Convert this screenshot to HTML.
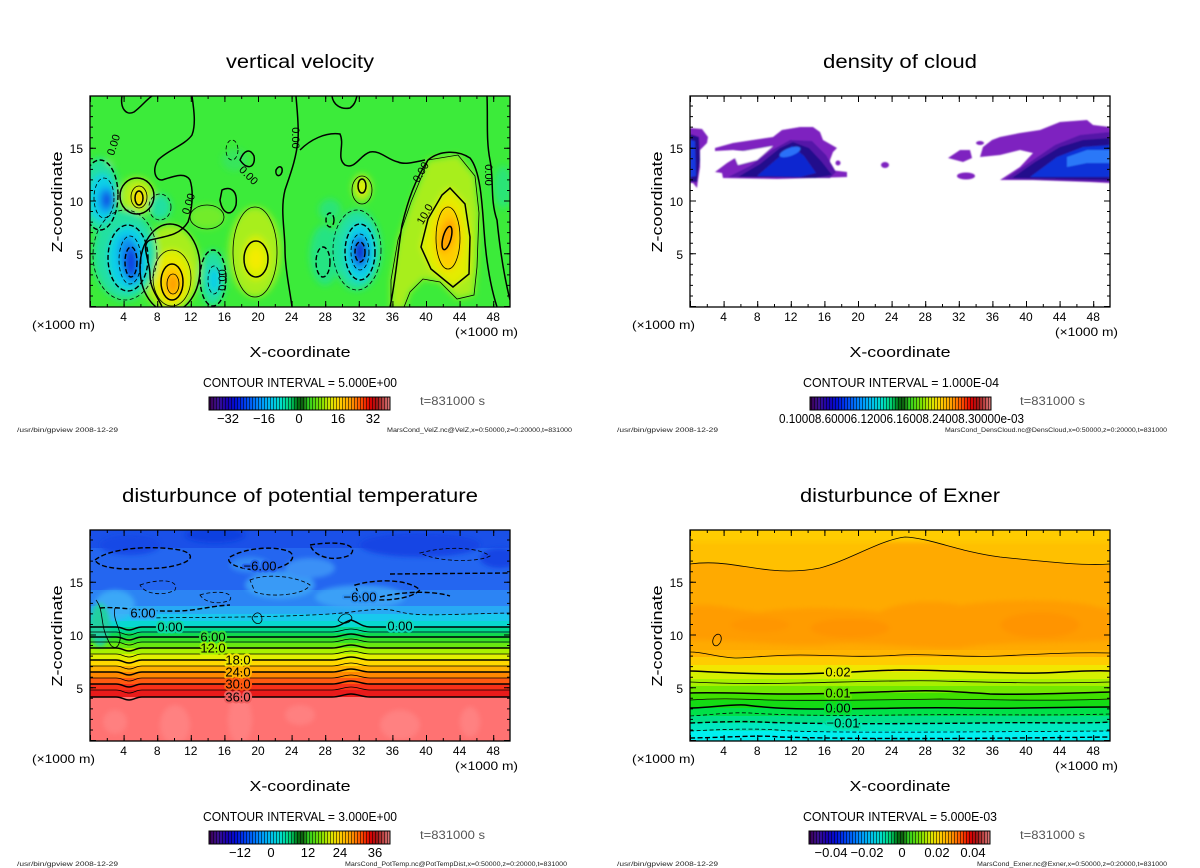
<!DOCTYPE html>
<html><head><meta charset="utf-8"><style>
html,body{margin:0;padding:0;background:#fff}
svg{display:block}
text{font-family:"Liberation Sans",sans-serif;fill:#000}
.k1{fill:none;stroke:#000;stroke-width:.8}
.k2{fill:none;stroke:#000;stroke-width:1.5}
.d1{fill:none;stroke:#000;stroke-width:.8;stroke-dasharray:4 2.5}
.d2{fill:none;stroke:#000;stroke-width:1.4;stroke-dasharray:5 2.5}
.tk{font-size:12px;text-anchor:middle}
.yk{font-size:12px;text-anchor:end}
.ft{font-size:6.5px;fill:#222}
.cl{font-size:13px;text-anchor:middle;paint-order:stroke;stroke-width:4px;stroke-linejoin:round}
.cb{font-size:13px;text-anchor:middle}
</style></head><body>
<svg width="1200" height="868" viewBox="0 0 1200 868" xmlns="http://www.w3.org/2000/svg">
<defs>
<filter id="bl" x="-20%" y="-20%" width="140%" height="140%"><feGaussianBlur stdDeviation="3.5"/></filter>
<filter id="bl3" x="-20%" y="-20%" width="140%" height="140%"><feGaussianBlur stdDeviation="2.5"/></filter>
<filter id="bl2" x="-20%" y="-20%" width="140%" height="140%"><feGaussianBlur stdDeviation="0.7"/></filter>
<clipPath id="cp1"><rect x="90" y="96" width="420" height="211"/></clipPath>
<clipPath id="cp2"><rect x="690" y="96" width="420" height="211"/></clipPath>
<clipPath id="cp3"><rect x="90" y="530" width="420" height="211"/></clipPath>
<clipPath id="cp4"><rect x="690" y="530" width="420" height="211"/></clipPath>
<linearGradient id="cbg" x1="0" y1="0" x2="1" y2="0">
<stop offset="0" stop-color="#3c0050"/><stop offset=".05" stop-color="#3a1090"/><stop offset=".1" stop-color="#1800b0"/>
<stop offset=".15" stop-color="#0010d8"/><stop offset=".2" stop-color="#0040f0"/><stop offset=".28" stop-color="#0090ff"/>
<stop offset=".34" stop-color="#00c0f0"/><stop offset=".4" stop-color="#00e0c8"/><stop offset=".45" stop-color="#00d070"/>
<stop offset=".49" stop-color="#007010"/><stop offset=".52" stop-color="#106010"/><stop offset=".55" stop-color="#30d020"/>
<stop offset=".62" stop-color="#80e000"/><stop offset=".67" stop-color="#d8e800"/><stop offset=".72" stop-color="#ffd000"/>
<stop offset=".78" stop-color="#ffa000"/><stop offset=".84" stop-color="#ff5000"/><stop offset=".89" stop-color="#e00000"/>
<stop offset=".93" stop-color="#a01818"/><stop offset=".97" stop-color="#c05050"/><stop offset="1" stop-color="#e08080"/>
</linearGradient>
<pattern id="stp" x="0" y="0" width="3" height="20" patternUnits="userSpaceOnUse"><rect width="1" height="20" fill="#000" opacity=".55"/></pattern>
<g id="cbar">
<rect x="209" y="397" width="181" height="13" fill="url(#cbg)"/>
<rect x="209" y="397" width="181" height="13" fill="url(#stp)"/>
<rect x="209" y="397" width="181" height="13" fill="none" stroke="#000" stroke-width="1"/>
</g>
<g id="ax">
<line x1="90" y1="305.5" x2="510" y2="305.5" stroke="#000" stroke-width="3" stroke-dasharray="1 15.8"/>
<line x1="90" y1="304" x2="510" y2="304" stroke="#000" stroke-width="6" stroke-dasharray="1 32.6"/>
<line x1="90" y1="97.5" x2="510" y2="97.5" stroke="#000" stroke-width="3" stroke-dasharray="1 15.8"/>
<line x1="90" y1="99" x2="510" y2="99" stroke="#000" stroke-width="6" stroke-dasharray="1 32.6"/>
<line x1="91.5" y1="307" x2="91.5" y2="96" stroke="#000" stroke-width="3" stroke-dasharray="1 9.55"/>
<line x1="93" y1="307" x2="93" y2="96" stroke="#000" stroke-width="6" stroke-dasharray="1 51.75"/>
<line x1="508.5" y1="307" x2="508.5" y2="96" stroke="#000" stroke-width="3" stroke-dasharray="1 9.55"/>
<line x1="507" y1="307" x2="507" y2="96" stroke="#000" stroke-width="6" stroke-dasharray="1 51.75"/>
<rect x="90" y="96" width="420" height="211" fill="none" stroke="#000" stroke-width="1.3"/>
</g>
</defs>

<!-- ================= PANEL 1 ================= -->
<g clip-path="url(#cp1)">
<rect x="90" y="96" width="420" height="211" fill="#3ceb3a"/>
<g filter="url(#bl)">
<ellipse cx="207" cy="217" rx="18" ry="12" fill="#80ec28" opacity=".8"/>
<polygon points="428,160 458,155 475,176 479,213 477,267 474,295 457,299 440,282 423,279 410,292 404,309 391,309 391,280 398,240 411,202 421,178" fill="#a8ee1c"/>
<polygon points="450,188 465,204 470,237 469,274 453,287 431,269 421,247 428,219 442,195" fill="#e4ec00"/>
<ellipse cx="448" cy="238" rx="13" ry="32" fill="#ffcc00"/>
<ellipse cx="447" cy="236" rx="7" ry="17" fill="#ffa000" transform="rotate(15 447 236)"/>
<ellipse cx="170" cy="268" rx="30" ry="43" fill="#a8ee1c"/>
<ellipse cx="172" cy="278" rx="19" ry="28" fill="#e4ec00"/>
<ellipse cx="172" cy="282" rx="11" ry="18" fill="#ffcc00"/>
<ellipse cx="173" cy="284" rx="6" ry="10" fill="#ffa000"/>
<ellipse cx="255" cy="252" rx="26" ry="45" fill="#a8ee1c"/>
<ellipse cx="256" cy="258" rx="13" ry="22" fill="#dcee00"/>
<ellipse cx="256" cy="259" rx="7" ry="11" fill="#f4ec00"/>
<ellipse cx="137" cy="196" rx="18" ry="19" fill="#a8ee1c"/>
<ellipse cx="139" cy="197" rx="8" ry="11" fill="#e4ec00"/>
<ellipse cx="139" cy="198" rx="4" ry="7" fill="#ffcc00"/>
<ellipse cx="105" cy="172" rx="6" ry="12" fill="#e8e000" transform="rotate(20 105 172)"/>
<ellipse cx="362" cy="188" rx="10" ry="14" fill="#a8ee1c"/>
<ellipse cx="362" cy="187" rx="5" ry="8" fill="#e4ec00"/>
<ellipse cx="125" cy="255" rx="32" ry="45" fill="#20e0a0"/>
<ellipse cx="128" cy="258" rx="20" ry="32" fill="#10d0e8"/>
<ellipse cx="130" cy="260" rx="11" ry="24" fill="#1090f0" transform="rotate(-10 130 260)"/>
<ellipse cx="131" cy="262" rx="6" ry="15" fill="#1040e0"/>
<ellipse cx="100" cy="195" rx="19" ry="37" fill="#20e0a0"/>
<ellipse cx="102" cy="198" rx="13" ry="24" fill="#10d0e8"/>
<ellipse cx="106" cy="200" rx="8" ry="13" fill="#1090f0"/>
<ellipse cx="107" cy="200" rx="4" ry="7" fill="#1040e0"/>
<ellipse cx="357" cy="250" rx="24" ry="40" fill="#20e0a0"/>
<ellipse cx="360" cy="252" rx="15" ry="29" fill="#10d0e8"/>
<ellipse cx="360" cy="252" rx="9" ry="18" fill="#1090f0"/>
<ellipse cx="360" cy="252" rx="6" ry="11" fill="#1030d0"/>
<ellipse cx="213" cy="278" rx="13" ry="28" fill="#20e0a0"/>
<ellipse cx="214" cy="280" rx="6" ry="13" fill="#10d0e8"/>
<ellipse cx="160" cy="207" rx="11" ry="13" fill="#20e0a0"/>
<ellipse cx="325" cy="255" rx="15" ry="30" fill="#20e0a0" opacity=".7"/>
<ellipse cx="330" cy="210" rx="11" ry="11" fill="#20e0a0" opacity=".6"/>
<ellipse cx="503" cy="187" rx="9" ry="21" fill="#20e0a0" opacity=".6"/>
<ellipse cx="235" cy="160" rx="13" ry="11" fill="#30e080" opacity=".5"/>
</g>
<!-- positive contours -->
<path class="k2" d="M390,307 C395,285 398,250 402,225 C408,200 415,180 428,160 C440,150 458,150 470,158 C480,170 482,200 484,230 C486,260 490,285 497,307"/>
<polygon class="k1" points="428,160 458,155 475,176 479,213 477,267 474,295 457,299 440,282 423,279 410,292 404,307 391,307 391,280 398,240 411,202 421,178"/>
<polygon class="k2" points="450,188 465,204 470,237 469,274 453,287 431,269 421,247 428,219 442,195"/>
<ellipse class="k1" cx="448" cy="238" rx="12" ry="31"/>
<ellipse class="k2" cx="447" cy="238" rx="4" ry="12" transform="rotate(15 447 238)"/>
<ellipse class="k2" cx="170" cy="268" rx="30" ry="44"/>
<ellipse class="k1" cx="172" cy="278" rx="19" ry="28"/>
<ellipse class="k2" cx="172" cy="282" rx="11" ry="18"/>
<ellipse class="k1" cx="173" cy="284" rx="6" ry="10"/>
<ellipse class="k1" cx="255" cy="252" rx="22" ry="45"/>
<ellipse class="k2" cx="256" cy="259" rx="12" ry="18"/>
<ellipse class="k2" cx="137" cy="196" rx="17" ry="18"/>
<ellipse class="k1" cx="139" cy="197" rx="8" ry="11"/>
<ellipse class="k2" cx="139" cy="198" rx="4" ry="7"/>
<ellipse class="k1" cx="362" cy="190" rx="10" ry="14"/>
<ellipse class="k2" cx="362" cy="186" rx="4" ry="7"/>
<ellipse class="k1" cx="207" cy="217" rx="17" ry="12"/>
<!-- negative contours -->
<ellipse class="d1" cx="125" cy="255" rx="32" ry="45"/>
<ellipse class="d2" cx="128" cy="258" rx="20" ry="33"/>
<ellipse class="d1" cx="130" cy="260" rx="11" ry="24"/>
<ellipse class="d2" cx="131" cy="262" rx="6" ry="15"/>
<ellipse class="d2" cx="100" cy="195" rx="18" ry="35"/>
<ellipse class="d1" cx="104" cy="198" rx="10" ry="20"/>
<ellipse class="d1" cx="357" cy="250" rx="24" ry="40"/>
<ellipse class="d2" cx="360" cy="252" rx="15" ry="28"/>
<ellipse class="d1" cx="360" cy="252" rx="9" ry="18"/>
<ellipse class="d2" cx="360" cy="252" rx="5" ry="10"/>
<ellipse class="d2" cx="213" cy="278" rx="13" ry="28"/>
<ellipse class="d1" cx="214" cy="280" rx="6" ry="14"/>
<ellipse class="d1" cx="160" cy="207" rx="11" ry="13"/>
<ellipse class="d2" cx="323" cy="262" rx="7" ry="15"/>
<ellipse class="d2" cx="330" cy="220" rx="4" ry="7"/>
<ellipse class="d1" cx="232" cy="150" rx="6" ry="10"/>
<!-- zero contours -->
<path class="k2" d="M122,96 C120,108 126,116 134,112 C142,106 146,100 152,96"/>
<path class="k2" d="M192,96 C194,110 196,125 192,135 C185,145 168,150 158,160 C152,170 155,180 162,180 C175,176 185,172 190,180 C194,192 192,210 188,222 C180,235 168,236 150,240 C140,245 150,260 150,275 C150,290 160,300 162,307"/>
<path class="k2" d="M296,96 C297,110 299,125 298,140 C296,160 290,175 285,190 C280,210 285,230 285,250 C285,270 290,290 292,307"/>
<path class="k2" d="M300,150 C310,140 325,132 340,134 C345,145 336,158 345,165 C355,170 360,155 370,152 C380,150 388,160 398,162 C405,165 415,162 425,160"/>
<path class="k2" d="M332,96 C333,104 340,110 350,108 C356,104 356,98 357,96"/>
<path class="k2" d="M487,96 C488,120 486,140 490,160 C494,180 490,200 497,220 C500,250 505,280 510,300"/>
<path class="k2" d="M240,160 C244,150 250,148 254,156 C256,166 248,172 240,160 Z"/>
<path class="k2" d="M276,170 C279,165 283,166 282,172 C280,178 275,176 276,170 Z"/>
<path class="k2" d="M222,190 C230,186 238,190 236,205 C232,218 222,214 220,200 Z"/>
<text x="0" y="0" font-size="11" transform="translate(117,146) rotate(-72)" text-anchor="middle">0.00</text>
<text x="0" y="0" font-size="11" transform="translate(192,205) rotate(-72)" text-anchor="middle">0.00</text>
<text x="0" y="0" font-size="11" transform="translate(246,178) rotate(45)" text-anchor="middle">0.00</text>
<text x="0" y="0" font-size="11" transform="translate(226,280) rotate(-90)" text-anchor="middle">0.00</text>
<text x="0" y="0" font-size="11" transform="translate(292,138) rotate(90)" text-anchor="middle">0.00</text>
<text x="0" y="0" font-size="11" transform="translate(424,174) rotate(-60)" text-anchor="middle">0.00</text>
<text x="0" y="0" font-size="11" transform="translate(428,216) rotate(-60)" text-anchor="middle">10.0</text>
<text x="0" y="0" font-size="11" transform="translate(485,175) rotate(90)" text-anchor="middle">0.00</text>
</g>
<use href="#ax"/>

<!-- ================= PANEL 2 ================= -->
<g clip-path="url(#cp2)">
<rect x="690" y="96" width="420" height="211" fill="#fff"/>
<g filter="url(#bl2)">
<polygon fill="#7e22c0" points="690,128 702,129 708,137 707,143 700,150 700,167 698,180 697,188 693,183 690,183"/>
<polygon fill="#24108c" points="690,134 699,137 700,160 697,182 690,182"/>
<polygon fill="#1838e0" points="690,140 695,141 696,176 690,177"/>
<polygon fill="#7e22c0" points="715,148 733,143 753,140 773,137 782,130 800,127 813,127 820,132 823,140 837,148 833,152 830,160 830,170 847,172 847,177 777,179 723,178 722,173 715,172 727,163 740,155 750,152 733,150 715,151"/>
<polygon fill="#fff" points="733,153 773,146 757,160 738,165"/>
<polygon fill="#5418a8" points="728,177 750,166 772,150 790,140 812,141 826,155 836,172 830,178"/>
<polygon fill="#24108c" points="738,177 760,164 780,148 793,142 809,148 822,162 832,175 815,178"/>
<polygon fill="#1028d0" points="757,176 778,158 792,146 804,156 816,173 800,177"/>
<ellipse cx="790" cy="152" rx="11" ry="4" fill="#2a70f8" transform="rotate(-20 790 152)"/>
<polygon fill="#7e22c0" points="1000,180 1020,167 1033,153 1020,150 1000,155 980,157 983,147 992,140 1000,137 1020,133 1040,130 1060,122 1087,120 1093,125 1110,127 1110,183 1090,182 1033,180"/>
<polygon fill="#5418a8" points="1005,179 1030,162 1055,145 1080,135 1110,132 1110,182"/>
<polygon fill="#24108c" points="1012,178 1035,162 1060,147 1083,140 1110,138 1110,180"/>
<polygon fill="#1030d8" points="1030,177 1057,157 1083,147 1110,145 1110,177"/>
<polygon fill="#2a78f8" points="1067,157 1087,150 1110,150 1110,163 1087,163 1067,167"/>
<polygon fill="#7e22c0" points="948,158 960,150 970,150 972,158 963,162"/>
<ellipse cx="966" cy="176" rx="9" ry="3.5" fill="#7e22c0"/>
<ellipse cx="885" cy="165" rx="4" ry="3" fill="#7e22c0"/>
<ellipse cx="980" cy="143" rx="4" ry="2" fill="#7e22c0"/>
<ellipse cx="838" cy="163" rx="2.5" ry="2.5" fill="#7e22c0"/>
</g>
</g>
<use href="#ax" transform="translate(600,0)"/>

<!-- ================= PANEL 3 ================= -->
<g clip-path="url(#cp3)">
<rect x="90" y="530" width="420" height="60" fill="#2466f0"/>
<rect x="90" y="530" width="420" height="18" fill="#1a50e8"/>
<rect x="90" y="590" width="420" height="16" fill="#2c84f4"/>
<rect x="90" y="606" width="420" height="8" fill="#28aaf4"/>
<rect x="90" y="614" width="420" height="7" fill="#18c8ee"/>
<rect x="90" y="621" width="420" height="6" fill="#08d8d0"/>
<rect x="90" y="627" width="420" height="6" fill="#00d890"/>
<rect x="90" y="633" width="420" height="5" fill="#10d850"/>
<rect x="90" y="638" width="420" height="5" fill="#38e028"/>
<rect x="90" y="643" width="420" height="5" fill="#68e810"/>
<rect x="90" y="648" width="420" height="6" fill="#a8f000"/>
<rect x="90" y="654" width="420" height="6" fill="#e0f000"/>
<rect x="90" y="660" width="420" height="6" fill="#ffd800"/>
<rect x="90" y="666" width="420" height="6" fill="#ffb000"/>
<rect x="90" y="672" width="420" height="6" fill="#ff8800"/>
<rect x="90" y="678" width="420" height="6" fill="#ff5a10"/>
<rect x="90" y="684" width="420" height="6" fill="#f83018"/>
<rect x="90" y="690" width="420" height="7" fill="#e81a1a"/>
<rect x="90" y="697" width="420" height="45" fill="#ff7272"/>
<g filter="url(#bl3)">
<ellipse cx="215" cy="535" rx="30" ry="8" fill="#1040e0"/>
<ellipse cx="420" cy="545" rx="60" ry="12" fill="#1444e4"/>
<ellipse cx="500" cy="558" rx="20" ry="10" fill="#1444e4"/>
<ellipse cx="130" cy="545" rx="30" ry="10" fill="#1848e6"/>
<ellipse cx="280" cy="585" rx="35" ry="14" fill="#40a8f8" opacity=".8"/>
<ellipse cx="360" cy="597" rx="45" ry="12" fill="#40a8f8" opacity=".8"/>
<ellipse cx="115" cy="605" rx="20" ry="15" fill="#40b0f8" opacity=".8"/>
<ellipse cx="310" cy="568" rx="25" ry="10" fill="#3a90f6"/>
<ellipse cx="250" cy="565" rx="20" ry="8" fill="#3088f4"/>
<ellipse cx="100" cy="625" rx="10" ry="22" fill="#20d0a0"/>
<g opacity=".55">
<ellipse cx="175" cy="725" rx="15" ry="20" fill="#ff8c8c"/>
<ellipse cx="240" cy="720" rx="12" ry="25" fill="#ff8a8a"/>
<ellipse cx="400" cy="725" rx="20" ry="15" fill="#ff8c8c"/>
<ellipse cx="300" cy="715" rx="15" ry="10" fill="#ff8a8a"/>
<ellipse cx="470" cy="722" rx="10" ry="15" fill="#ff8c8c"/>
<ellipse cx="115" cy="722" rx="12" ry="12" fill="#ff8a8a"/>
</g>
</g>
<path class="k2" d="M90,627 L116,627 C122,627 124,630 129,630 C134,630 136,627 142,627 L332,627 C340,627 344,622 351,620 C358,622 362,627 370,627 L510,627"/>
<path class="k1" d="M90,632 L116,632 C122,632 124,635 129,635 C134,635 136,632 142,632 L332,632 C340,632 344,629 351,629 C358,629 362,632 370,632 L510,632"/>
<path class="k2" d="M90,637 L116,637 C122,637 124,640 129,640 C134,640 136,637 142,637 L332,637 C340,637 344,634 351,634 C358,634 362,637 370,637 L510,637"/>
<path class="k1" d="M90,642 L116,642 C122,642 124,645 129,645 C134,645 136,642 142,642 L332,642 C340,642 344,639 351,639 C358,639 362,642 370,642 L510,642"/>
<path class="k2" d="M90,648 L116,648 C122,648 124,651 129,651 C134,651 136,648 142,648 L332,648 C340,648 344,645 351,645 C358,645 362,648 370,648 L510,648"/>
<path class="k1" d="M90,654 L116,654 C122,654 124,657 129,657 C134,657 136,654 142,654 L332,654 C340,654 344,651 351,651 C358,651 362,654 370,654 L510,654"/>
<path class="k2" d="M90,660 L116,660 C122,660 124,663 129,663 C134,663 136,660 142,660 L332,660 C340,660 344,657 351,657 C358,657 362,660 370,660 L510,660"/>
<path class="k1" d="M90,666 L116,666 C122,666 124,669 129,669 C134,669 136,666 142,666 L332,666 C340,666 344,663 351,663 C358,663 362,666 370,666 L510,666"/>
<path class="k2" d="M90,672 L116,672 C122,672 124,675 129,675 C134,675 136,672 142,672 L332,672 C340,672 344,669 351,669 C358,669 362,672 370,672 L510,672"/>
<path class="k1" d="M90,678 L116,678 C122,678 124,681 129,681 C134,681 136,678 142,678 L332,678 C340,678 344,675 351,675 C358,675 362,678 370,678 L510,678"/>
<path class="k2" d="M90,684 L116,684 C122,684 124,687 129,687 C134,687 136,684 142,684 L332,684 C340,684 344,681 351,681 C358,681 362,684 370,684 L510,684"/>
<path class="k1" d="M90,690 L116,690 C122,690 124,693 129,693 C134,693 136,690 142,690 L332,690 C340,690 344,687 351,687 C358,687 362,690 370,690 L510,690"/>
<path class="k2" d="M90,697 L116,697 C122,697 124,700 129,700 C134,700 136,697 142,697 L332,697 C340,697 344,694 351,694 C358,694 362,697 370,697 L510,697"/>
<path class="k1" d="M96,600 C104,610 100,625 108,640 C112,650 118,650 120,640 C122,630 112,620 115,608"/>
<path class="k1" d="M252,618 C256,610 262,612 262,620 C260,626 254,624 252,618 Z"/>
<path class="k1" d="M338,620 C342,612 350,612 352,618 C350,624 342,625 338,620 Z"/>
<path class="d2" d="M100,608 C120,606 140,612 180,611 C200,610 210,606 230,605"/>
<path class="d1" d="M150,618 C200,617 260,618 330,614 C360,612 380,606 400,612 C420,617 450,614 510,613"/>
<path class="d2" d="M390,574 L510,573"/>
<path class="d2" d="M95,560 C110,548 150,545 180,550 C200,555 190,565 160,568 C130,570 100,570 95,560 Z"/>
<path class="d2" d="M230,557 C245,548 275,545 290,552 C300,560 280,572 255,570 C235,568 225,562 230,557 Z"/>
<path class="d1" d="M250,580 C270,572 300,578 310,585 C305,595 270,598 255,592 Z"/>
<path class="d2" d="M310,545 C340,540 360,545 350,555 C335,562 315,558 310,545 Z"/>
<path class="d2" d="M355,585 C380,578 410,580 420,590 C410,600 380,602 360,598 Z"/>
<path class="d1" d="M420,553 C450,545 480,548 490,556 C480,562 440,563 420,553 Z"/>
<path class="d1" d="M140,585 C160,578 180,580 175,590 C165,596 145,595 140,585 Z"/>
<path class="d1" d="M200,595 C215,590 235,592 230,600 C220,605 205,603 200,595 Z"/>
<path class="d2" d="M380,597 C400,592 430,590 450,596"/>
<text class="cl" x="170" y="631.5" stroke="#10d8a8">0.00</text>
<text class="cl" x="213" y="641.5" stroke="#30e040">6.00</text>
<text class="cl" x="213" y="652.5" stroke="#a0f000">12.0</text>
<text class="cl" x="238" y="664.5" stroke="#f0e800">18.0</text>
<text class="cl" x="238" y="676.5" stroke="#ffb000">24.0</text>
<text class="cl" x="238" y="688.5" stroke="#ff5a10">30.0</text>
<text class="cl" x="238" y="701.5" stroke="#f06060">36.0</text>
<text class="cl" x="260" y="570.5" stroke="#2466f0">−6.00</text>
<text class="cl" x="360" y="601.5" stroke="#3094f6">−6.00</text>
<text class="cl" x="143" y="617.5" stroke="#30a8f4">6.00</text>
<text class="cl" x="400" y="630.5" stroke="#10d8c0">0.00</text>
</g>
<use href="#ax" transform="translate(0,434)"/>

<!-- ================= PANEL 4 ================= -->
<g clip-path="url(#cp4)">
<rect x="690" y="530" width="420" height="211" fill="#ffaa00"/>
<path fill="#ffc000" d="M690,530 L1110,530 L1110,565 C1080,566 1040,560 1000,557 C960,552 930,538 905,537 C880,540 850,560 820,568 C800,572 790,572 770,570 C740,567 720,560 690,564 Z"/>
<g filter="url(#bl3)">
<rect x="680" y="526" width="440" height="16" fill="#ffcc00"/>
<path fill="#ff9c00" d="M690,606 C720,602 740,612 760,612 C800,606 850,608 880,612 C900,600 940,600 960,605 C1000,600 1050,598 1090,605 L1110,610 L1110,640 C1060,645 1000,640 960,648 C900,648 860,640 820,645 C780,646 740,640 690,640 Z"/>
<ellipse cx="850" cy="628" rx="40" ry="10" fill="#ff9400"/>
<ellipse cx="1040" cy="625" rx="40" ry="13" fill="#ff9400"/>
<ellipse cx="760" cy="625" rx="30" ry="8" fill="#ff9600"/>
</g>
<rect x="690" y="650" width="420" height="7" fill="#ffb400"/>
<rect x="690" y="657" width="420" height="8" fill="#ffcc00"/>
<rect x="690" y="665" width="420" height="7" fill="#f2e600"/>
<rect x="690" y="672" width="420" height="7" fill="#d4f000"/>
<rect x="690" y="679" width="420" height="7" fill="#a8f000"/>
<rect x="690" y="686" width="420" height="7" fill="#74e800"/>
<rect x="690" y="693" width="420" height="7" fill="#40e000"/>
<rect x="690" y="700" width="420" height="8" fill="#14dc14"/>
<rect x="690" y="708" width="420" height="8" fill="#00e048"/>
<rect x="690" y="716" width="420" height="7" fill="#00e088"/>
<rect x="690" y="723" width="420" height="8" fill="#00e8c0"/>
<rect x="690" y="731" width="420" height="11" fill="#00f0f0"/>
<path class="k1" d="M690,564 C720,560 740,567 770,570 C790,572 805,571 820,568 C850,560 880,540 905,537 C930,538 960,552 1000,557 C1040,561 1080,566 1110,564"/>
<path class="k1" d="M690,652 C705,652 715,657 735,658 C750,658 770,655 800,655 C830,655 860,658 900,655 C930,653 960,658 1000,656 C1040,654 1080,652 1110,653"/>
<path class="k2" d="M690,671 C720,672 740,674 790,674 C830,674 860,671 900,670 C950,670 1000,674 1040,673 C1070,672 1090,670 1110,671"/>
<path class="k1" d="M690,682 C730,684 760,684 800,683 C850,682 900,680 940,681 C980,682 1040,684 1110,682"/>
<path class="k2" d="M690,693 C720,692 750,694 790,694 C830,694 870,692 910,691 C940,690 960,692 990,694 C1030,695 1070,693 1110,692"/>
<path class="k1" d="M690,700 C720,698 740,699 770,700 C820,701 880,700 940,699 C1000,700 1060,701 1110,699"/>
<path class="k2" d="M690,708 C710,708 730,704 745,705 C760,707 780,709 820,709 C870,709 920,707 960,708 C1010,709 1060,707 1110,707"/>
<path class="d1" d="M690,716 C710,715 730,712 750,713 C780,715 820,716 900,715 C980,714 1040,716 1110,714"/>
<path class="d2" d="M690,723 C720,722 740,721 760,722 C800,724 900,724 980,723 C1040,722 1080,724 1110,722"/>
<path class="d1" d="M690,731 C730,729 760,728 790,731 C850,733 950,732 1110,731"/>
<path class="d2" d="M690,738 C740,737 760,735 780,737 C850,739 950,739 1110,737"/>
<ellipse class="k1" cx="717" cy="640" rx="4" ry="6" transform="rotate(20 717 640)"/>
<text class="cl" x="838" y="676.5" stroke="#e4ec00">0.02</text>
<text class="cl" x="838" y="697.5" stroke="#60e400">0.01</text>
<text class="cl" x="838" y="712.5" stroke="#08de30">0.00</text>
<text class="cl" x="843" y="727.5" stroke="#00e4a4">−0.01</text>
</g>
<use href="#ax" transform="translate(600,434)"/>

<!-- ================= TEXT ================= -->
<!-- panel 1 -->
<text x="300" y="68" font-size="19" text-anchor="middle" textLength="148" lengthAdjust="spacingAndGlyphs">vertical velocity</text>
<text transform="translate(62,202) rotate(-90)" font-size="15" text-anchor="middle" textLength="101" lengthAdjust="spacingAndGlyphs">Z-coordinate</text>
<text class="yk" x="83" y="153">15</text><text class="yk" x="83" y="206">10</text><text class="yk" x="83" y="259">5</text>
<text class="tk" x="123.6" y="321">4</text><text class="tk" x="157.2" y="321">8</text><text class="tk" x="190.8" y="321">12</text><text class="tk" x="224.4" y="321">16</text><text class="tk" x="258" y="321">20</text><text class="tk" x="291.6" y="321">24</text><text class="tk" x="325.2" y="321">28</text><text class="tk" x="358.8" y="321">32</text><text class="tk" x="392.4" y="321">36</text><text class="tk" x="426" y="321">40</text><text class="tk" x="459.6" y="321">44</text><text class="tk" x="493.2" y="321">48</text>
<text x="32" y="329" font-size="12" textLength="63" lengthAdjust="spacingAndGlyphs">(×1000 m)</text>
<text x="455" y="336" font-size="12" textLength="63" lengthAdjust="spacingAndGlyphs">(×1000 m)</text>
<text x="300" y="357" font-size="15" text-anchor="middle" textLength="101" lengthAdjust="spacingAndGlyphs">X-coordinate</text>
<text x="300" y="387" font-size="13" text-anchor="middle" textLength="194" lengthAdjust="spacingAndGlyphs">CONTOUR INTERVAL = 5.000E+00</text>
<use href="#cbar"/>
<text class="cb" x="228" y="423">−32</text><text class="cb" x="264" y="423">−16</text><text class="cb" x="299" y="423">0</text><text class="cb" x="338" y="423">16</text><text class="cb" x="373" y="423">32</text>
<text x="420" y="405" font-size="12" textLength="65" lengthAdjust="spacingAndGlyphs" style="fill:#555">t=831000 s</text>
<text class="ft" x="17" y="432" textLength="101" lengthAdjust="spacingAndGlyphs">/usr/bin/gpview   2008-12-29</text>
<text class="ft" x="387" y="432" textLength="185" lengthAdjust="spacingAndGlyphs">MarsCond_VelZ.nc@VelZ,x=0:50000,z=0:20000,t=831000</text>

<!-- panel 2 -->
<text x="900" y="68" font-size="19" text-anchor="middle" textLength="154" lengthAdjust="spacingAndGlyphs">density of cloud</text>
<text transform="translate(662,202) rotate(-90)" font-size="15" text-anchor="middle" textLength="101" lengthAdjust="spacingAndGlyphs">Z-coordinate</text>
<text class="yk" x="683" y="153">15</text><text class="yk" x="683" y="206">10</text><text class="yk" x="683" y="259">5</text>
<text class="tk" x="723.6" y="321">4</text><text class="tk" x="757.2" y="321">8</text><text class="tk" x="790.8" y="321">12</text><text class="tk" x="824.4" y="321">16</text><text class="tk" x="858" y="321">20</text><text class="tk" x="891.6" y="321">24</text><text class="tk" x="925.2" y="321">28</text><text class="tk" x="958.8" y="321">32</text><text class="tk" x="992.4" y="321">36</text><text class="tk" x="1026" y="321">40</text><text class="tk" x="1059.6" y="321">44</text><text class="tk" x="1093.2" y="321">48</text>
<text x="632" y="329" font-size="12" textLength="63" lengthAdjust="spacingAndGlyphs">(×1000 m)</text>
<text x="1055" y="336" font-size="12" textLength="63" lengthAdjust="spacingAndGlyphs">(×1000 m)</text>
<text x="900" y="357" font-size="15" text-anchor="middle" textLength="101" lengthAdjust="spacingAndGlyphs">X-coordinate</text>
<text x="901" y="387" font-size="13" text-anchor="middle" textLength="196" lengthAdjust="spacingAndGlyphs">CONTOUR INTERVAL = 1.000E-04</text>
<use href="#cbar" transform="translate(601,0)"/>
<text x="779" y="423" font-size="13" textLength="245" lengthAdjust="spacingAndGlyphs">0.10008.60006.12006.16008.24008.30000e-03</text>
<text x="1020" y="405" font-size="12" textLength="65" lengthAdjust="spacingAndGlyphs" style="fill:#555">t=831000 s</text>
<text class="ft" x="617" y="432" textLength="101" lengthAdjust="spacingAndGlyphs">/usr/bin/gpview   2008-12-29</text>
<text class="ft" x="945" y="432" textLength="222" lengthAdjust="spacingAndGlyphs">MarsCond_DensCloud.nc@DensCloud,x=0:50000,z=0:20000,t=831000</text>

<!-- panel 3 -->
<text x="300" y="502" font-size="19" text-anchor="middle" textLength="356" lengthAdjust="spacingAndGlyphs">disturbunce of potential temperature</text>
<text transform="translate(62,636) rotate(-90)" font-size="15" text-anchor="middle" textLength="101" lengthAdjust="spacingAndGlyphs">Z-coordinate</text>
<text class="yk" x="83" y="587">15</text><text class="yk" x="83" y="640">10</text><text class="yk" x="83" y="693">5</text>
<text class="tk" x="123.6" y="755">4</text><text class="tk" x="157.2" y="755">8</text><text class="tk" x="190.8" y="755">12</text><text class="tk" x="224.4" y="755">16</text><text class="tk" x="258" y="755">20</text><text class="tk" x="291.6" y="755">24</text><text class="tk" x="325.2" y="755">28</text><text class="tk" x="358.8" y="755">32</text><text class="tk" x="392.4" y="755">36</text><text class="tk" x="426" y="755">40</text><text class="tk" x="459.6" y="755">44</text><text class="tk" x="493.2" y="755">48</text>
<text x="32" y="763" font-size="12" textLength="63" lengthAdjust="spacingAndGlyphs">(×1000 m)</text>
<text x="455" y="770" font-size="12" textLength="63" lengthAdjust="spacingAndGlyphs">(×1000 m)</text>
<text x="300" y="791" font-size="15" text-anchor="middle" textLength="101" lengthAdjust="spacingAndGlyphs">X-coordinate</text>
<text x="300" y="821" font-size="13" text-anchor="middle" textLength="194" lengthAdjust="spacingAndGlyphs">CONTOUR INTERVAL = 3.000E+00</text>
<use href="#cbar" transform="translate(0,434)"/>
<text class="cb" x="240" y="857">−12</text><text class="cb" x="271" y="857">0</text><text class="cb" x="308" y="857">12</text><text class="cb" x="340" y="857">24</text><text class="cb" x="375" y="857">36</text>
<text x="420" y="839" font-size="12" textLength="65" lengthAdjust="spacingAndGlyphs" style="fill:#555">t=831000 s</text>
<text class="ft" x="17" y="866" textLength="101" lengthAdjust="spacingAndGlyphs">/usr/bin/gpview   2008-12-29</text>
<text class="ft" x="345" y="866" textLength="222" lengthAdjust="spacingAndGlyphs">MarsCond_PotTemp.nc@PotTempDist,x=0:50000,z=0:20000,t=831000</text>

<!-- panel 4 -->
<text x="900" y="502" font-size="19" text-anchor="middle" textLength="200" lengthAdjust="spacingAndGlyphs">disturbunce of Exner</text>
<text transform="translate(662,636) rotate(-90)" font-size="15" text-anchor="middle" textLength="101" lengthAdjust="spacingAndGlyphs">Z-coordinate</text>
<text class="yk" x="683" y="587">15</text><text class="yk" x="683" y="640">10</text><text class="yk" x="683" y="693">5</text>
<text class="tk" x="723.6" y="755">4</text><text class="tk" x="757.2" y="755">8</text><text class="tk" x="790.8" y="755">12</text><text class="tk" x="824.4" y="755">16</text><text class="tk" x="858" y="755">20</text><text class="tk" x="891.6" y="755">24</text><text class="tk" x="925.2" y="755">28</text><text class="tk" x="958.8" y="755">32</text><text class="tk" x="992.4" y="755">36</text><text class="tk" x="1026" y="755">40</text><text class="tk" x="1059.6" y="755">44</text><text class="tk" x="1093.2" y="755">48</text>
<text x="632" y="763" font-size="12" textLength="63" lengthAdjust="spacingAndGlyphs">(×1000 m)</text>
<text x="1055" y="770" font-size="12" textLength="63" lengthAdjust="spacingAndGlyphs">(×1000 m)</text>
<text x="900" y="791" font-size="15" text-anchor="middle" textLength="101" lengthAdjust="spacingAndGlyphs">X-coordinate</text>
<text x="900" y="821" font-size="13" text-anchor="middle" textLength="194" lengthAdjust="spacingAndGlyphs">CONTOUR INTERVAL = 5.000E-03</text>
<use href="#cbar" transform="translate(600,434)"/>
<text class="cb" x="831" y="857">−0.04</text><text class="cb" x="867" y="857">−0.02</text><text class="cb" x="902" y="857">0</text><text class="cb" x="937" y="857">0.02</text><text class="cb" x="973" y="857">0.04</text>
<text x="1020" y="839" font-size="12" textLength="65" lengthAdjust="spacingAndGlyphs" style="fill:#555">t=831000 s</text>
<text class="ft" x="617" y="866" textLength="101" lengthAdjust="spacingAndGlyphs">/usr/bin/gpview   2008-12-29</text>
<text class="ft" x="977" y="866" textLength="190" lengthAdjust="spacingAndGlyphs">MarsCond_Exner.nc@Exner,x=0:50000,z=0:20000,t=831000</text>
</svg>
</body></html>
